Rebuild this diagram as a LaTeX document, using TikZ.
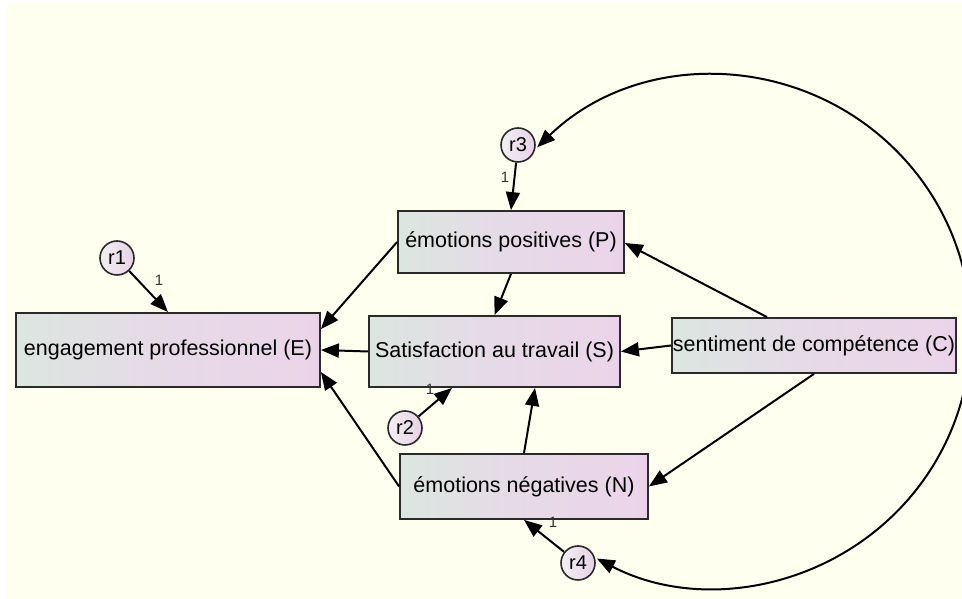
\documentclass[tikz,border=0pt]{standalone}
\usepackage{fontspec}
\setmainfont{Liberation Sans}
\usetikzlibrary{arrows.meta}
\definecolor{bgivory}{HTML}{FFFFF0}
\definecolor{boxL}{HTML}{DCE6E0}
\definecolor{boxR}{HTML}{EBD4EA}
\definecolor{errL}{HTML}{F3EEF3}
\definecolor{errR}{HTML}{E6D2E6}
\definecolor{bord}{HTML}{2A2A2A}
\begin{document}
\begin{tikzpicture}[x=1pt,y=1pt,
  box/.style={rectangle,draw=bord,line width=1.8pt,left color=boxL,right color=boxR,middle color=boxR!70!boxL,inner sep=0pt,font=\fontsize{21.5}{25}\selectfont},
  errv/.style={circle,draw=bord,line width=1.6pt,left color=errL,right color=errR,minimum size=34pt,inner sep=0pt,font=\fontsize{20}{22}\selectfont},
  conn/.style={draw=black,line width=2pt,-{Triangle[length=18pt,width=14pt]}},
  cov/.style={draw=black,line width=2pt,{Triangle[length=18pt,width=14pt]}-{Triangle[length=18pt,width=14pt]}},
  one/.style={font=\fontsize{15}{17}\selectfont,text=black!80,inner sep=0pt}]
\useasboundingbox (0,0) rectangle (962,599);
\clip (0,0) rectangle (962,599);
\fill[white] (0,0) rectangle (962,599);
\fill[bgivory] (7,0) rectangle (962,596);

% boxes
\node[box,minimum width=304pt,minimum height=74pt] (E) at (168,249) {engagement professionnel (E)};
\node[box,minimum width=226pt,minimum height=62pt] (P) at (511,357) {émotions positives (P)};
\node[box,minimum width=251pt,minimum height=71pt] (S) at (494.5,247.5) {Satisfaction au travail (S)};
\node[box,minimum width=248pt,minimum height=65pt] (N) at (524,112.5) {émotions négatives (N)};
\node[box,minimum width=284pt,minimum height=55pt] (C) at (814,253.5) {sentiment de compétence (C)};

% error terms
\node[errv] (r1) at (117,341) {r1};
\node[errv] (r3) at (518,454) {r3};
\node[errv] (r2) at (405,171) {r2};
\node[errv] (r4) at (578,36) {r4};

% regression paths
\draw[conn] (r1) -- (E.north);
\draw[conn] (r3) -- (P.north);
\draw[conn] (r2) -- ([xshift=-42.5pt]S.south);
\draw[conn] (r4) -- (N.south);
\draw[conn] (P.west) -- ([yshift=21pt]E.east);
\draw[conn] (S.west) -- (E.east);
\draw[conn] (N.west) -- ([yshift=-22pt]E.east);
\draw[conn] (P.south) -- (S.north);
\draw[conn] (N.north) -- ([xshift=40.5pt]S.south);
\draw[conn] ([xshift=-47pt]C.north) -- ([yshift=-1pt]P.east);
\draw[conn] (C.west) -- (S.east);
\draw[conn] (C.south) -- (N.east);

% covariance r3 <-> r4
\coordinate (a3) at (537.2,451.7);
\draw[cov] (a3) arc[start angle=134, end angle=-117.5, radius=256];

% fixed weights
\node[one] (w1) at (159,319) {1};
\node[one] (w3) at (505,422) {1};
\node[one] (w2) at (430,210) {1};
\node[one] (w4) at (553,77) {1};
\end{tikzpicture}
\end{document}
